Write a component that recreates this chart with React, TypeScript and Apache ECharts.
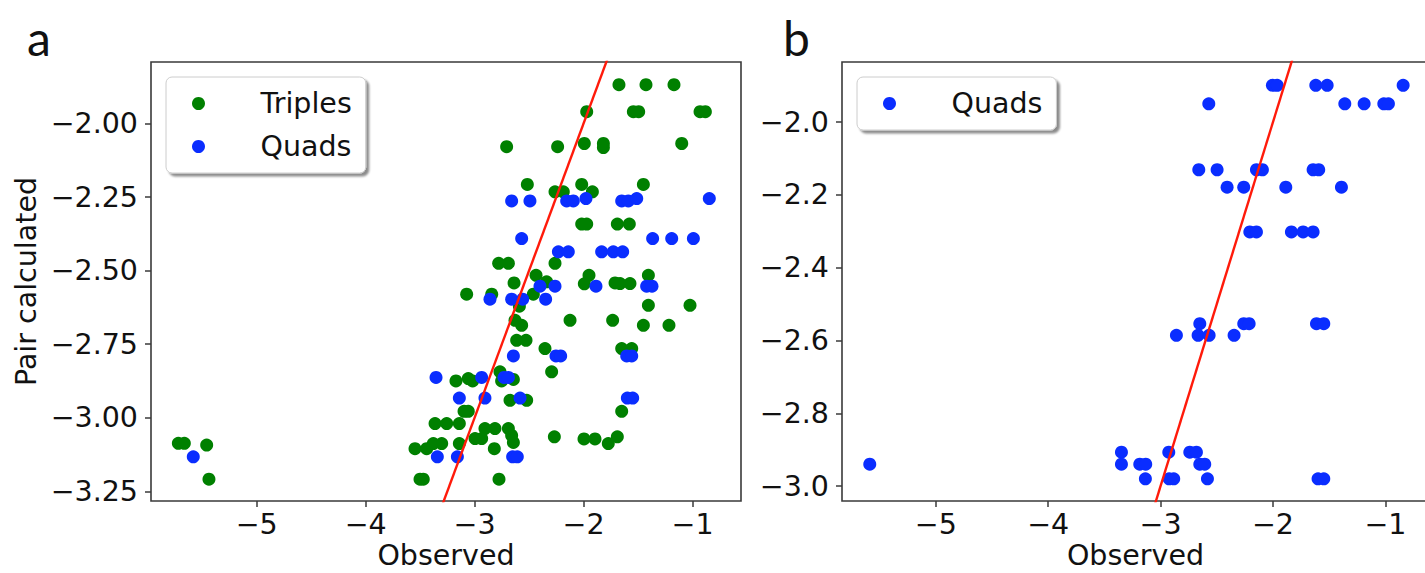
import React, { useEffect, useRef } from 'react';
import * as echarts from 'echarts';

// Tick values
const xTicks = [-5, -4, -3, -2, -1];
const leftYTicks = [-3.25, -3.0, -2.75, -2.5, -2.25, -2.0];
const rightYTicks = [-3.0, -2.8, -2.6, -2.4, -2.2, -2.0];
// y = x reference line end points
const identityEnds = [-7, 0];

// Panel a: Triples (Observed, Pair calculated)
const triples: number[][] = [
  [-1.675, -1.868], [-1.427, -1.868], [-1.170, -1.868],
  [-1.971, -1.960], [-1.543, -1.960], [-1.494, -1.960], [-0.931, -1.960], [-0.882, -1.960],
  [-2.706, -2.079], [-2.238, -2.079], [-1.993, -2.068], [-1.818, -2.068], [-1.818, -2.082], [-1.099, -2.068],
  [-2.516, -2.207], [-2.017, -2.207], [-1.451, -2.207],
  [-2.262, -2.232], [-2.186, -2.232], [-1.919, -2.232],
  [-2.017, -2.342], [-1.971, -2.342], [-1.690, -2.342], [-1.580, -2.342],
  [-2.779, -2.475], [-2.690, -2.475], [-2.262, -2.475],
  [-2.638, -2.542], [-2.436, -2.516], [-2.339, -2.538], [-2.461, -2.580],
  [-1.950, -2.516], [-1.993, -2.545], [-1.711, -2.542], [-1.665, -2.544], [-1.574, -2.544], [-1.405, -2.516],
  [-3.073, -2.580], [-2.843, -2.580], [-2.589, -2.621], [-1.405, -2.618], [-1.023, -2.618],
  [-2.629, -2.669], [-2.568, -2.686], [-2.124, -2.669], [-1.733, -2.669], [-1.451, -2.686], [-1.216, -2.686],
  [-2.614, -2.737], [-2.528, -2.737], [-2.354, -2.765], [-1.650, -2.765], [-1.558, -2.765],
  [-2.767, -2.844], [-2.293, -2.844],
  [-3.171, -2.875], [-3.058, -2.867], [-3.018, -2.875], [-2.752, -2.875], [-2.644, -2.870],
  [-2.675, -2.941], [-2.522, -2.941],
  [-3.097, -2.978], [-3.058, -2.978], [-1.650, -2.978],
  [-3.363, -3.020], [-3.256, -3.020], [-3.140, -3.020],
  [-2.905, -3.037], [-2.813, -3.037], [-2.690, -3.037], [-2.660, -3.060],
  [-2.996, -3.071], [-2.935, -3.071], [-2.644, -3.084],
  [-3.547, -3.105], [-3.440, -3.105], [-3.379, -3.088], [-3.302, -3.088], [-3.140, -3.088], [-2.819, -3.105],
  [-2.268, -3.065], [-1.996, -3.072], [-1.895, -3.072], [-1.773, -3.088], [-1.690, -3.065],
  [-3.501, -3.209], [-3.471, -3.209], [-2.776, -3.209],
  [-5.719, -3.087], [-5.664, -3.087], [-5.459, -3.093], [-5.438, -3.209],
];

// Panel a: Quads
const quadsA: number[][] = [
  [-2.660, -2.263], [-2.492, -2.263], [-2.155, -2.263], [-2.094, -2.263], [-1.978, -2.255],
  [-1.650, -2.263], [-1.589, -2.263], [-1.512, -2.255], [-0.846, -2.255],
  [-2.568, -2.391], [-1.366, -2.391], [-1.191, -2.391], [-0.992, -2.391],
  [-2.231, -2.436], [-2.140, -2.436], [-1.834, -2.436], [-1.727, -2.436], [-1.641, -2.436],
  [-2.400, -2.553], [-2.262, -2.553], [-1.886, -2.553], [-1.421, -2.553], [-1.372, -2.553],
  [-2.859, -2.597], [-2.660, -2.597], [-2.559, -2.597], [-2.348, -2.597],
  [-2.644, -2.790], [-2.253, -2.790], [-2.210, -2.790], [-1.604, -2.790], [-1.558, -2.790],
  [-3.354, -2.863], [-2.935, -2.863], [-2.730, -2.863], [-2.690, -2.863],
  [-3.140, -2.933], [-2.905, -2.933], [-2.583, -2.933], [-1.598, -2.933], [-1.549, -2.933],
  [-3.342, -3.133], [-3.158, -3.133], [-2.651, -3.133], [-2.608, -3.133],
  [-5.582, -3.133],
];

// Panel b: Quads
const quadsB: number[][] = [
  [-2.005, -1.899], [-1.963, -1.899], [-1.619, -1.899], [-1.518, -1.899], [-0.842, -1.899],
  [-2.571, -1.950], [-1.361, -1.950], [-1.189, -1.950], [-1.014, -1.950], [-0.973, -1.950],
  [-2.660, -2.131], [-2.497, -2.131], [-2.147, -2.131], [-2.094, -2.131], [-1.643, -2.131], [-1.593, -2.131],
  [-2.408, -2.179], [-2.260, -2.179], [-1.886, -2.179], [-1.391, -2.179],
  [-2.206, -2.302], [-2.147, -2.302], [-1.836, -2.302], [-1.732, -2.302], [-1.643, -2.302],
  [-2.651, -2.554], [-2.260, -2.554], [-2.212, -2.554], [-1.613, -2.554], [-1.548, -2.554],
  [-2.859, -2.586], [-2.666, -2.586], [-2.568, -2.586], [-2.346, -2.586],
  [-3.348, -2.907], [-2.927, -2.907], [-2.740, -2.907], [-2.681, -2.907],
  [-3.348, -2.940], [-3.185, -2.940], [-3.132, -2.940], [-2.651, -2.940], [-2.607, -2.940],
  [-3.135, -2.980], [-2.924, -2.980], [-2.883, -2.980], [-2.583, -2.980], [-1.599, -2.980], [-1.548, -2.980],
  [-5.587, -2.940],
];

const FONT = 'DejaVu Sans';
const FS = 28.5;
const GREEN = '#008000';
const BLUE = '#0a2dff';
const RED = '#ff1a0a';
const INK = '#111111';
const SPINE = '#3a3a3a';

const fmt = (d: number) => (v: number) => (v < 0 ? '\u2212' : '') + Math.abs(v).toFixed(d);

function xAxisOf(gridIndex: number, min: number, max: number) {
  return {
    gridIndex,
    type: 'value',
    min,
    max,
    splitLine: { show: false },
    axisLine: { show: false, onZero: false },
    axisTick: { show: true, customValues: xTicks, length: 6, lineStyle: { color: SPINE, width: 1.5 } },
    axisLabel: { customValues: xTicks, formatter: fmt(0), fontFamily: FONT, fontSize: FS, color: INK, margin: 9, lineHeight: 28 },
    name: 'Observed',
    nameLocation: 'middle',
    nameGap: 39,
    nameMoveOverlap: false,
    nameTextStyle: { fontFamily: FONT, fontSize: FS, color: INK, lineHeight: 30, verticalAlign: 'top' },
  };
}

function yAxisOf(gridIndex: number, min: number, max: number, ticks: number[], dec: number, name?: string) {
  return {
    gridIndex,
    type: 'value',
    min,
    max,
    splitLine: { show: false },
    axisLine: { show: false, onZero: false },
    axisTick: { show: true, customValues: ticks, length: 6, lineStyle: { color: SPINE, width: 1.5 } },
    axisLabel: { customValues: ticks, formatter: fmt(dec), fontFamily: FONT, fontSize: FS, color: INK, margin: 13 },
    name: name || '',
    nameLocation: 'middle',
    nameGap: 110,
    nameRotate: 90,
    nameTextStyle: { fontFamily: FONT, fontSize: FS, color: INK },
  };
}

const legendBase = {
  orient: 'vertical',
  itemWidth: 30,
  itemHeight: 13,
  itemGap: 14,
  icon: 'circle',
  selectedMode: false,
  padding: [12, 14, 12, 26],
  backgroundColor: '#ffffff',
  borderColor: '#cccccc',
  borderWidth: 1,
  borderRadius: 6,
  shadowColor: 'rgba(0,0,0,0.45)',
  shadowBlur: 2,
  shadowOffsetX: 3,
  shadowOffsetY: 3,
  textStyle: { fontFamily: FONT, fontSize: FS, color: INK, padding: [0, 0, 0, 42] },
};

const gridBase = {
  show: true,
  borderColor: SPINE,
  borderWidth: 1.6,
  backgroundColor: 'transparent',
  containLabel: false,
  outerBoundsMode: 'none',
};

export default function App() {
  const ref = useRef<HTMLDivElement>(null);
  useEffect(() => {
    if (!ref.current) return;
    const chart = echarts.init(ref.current, undefined, { renderer: 'svg' });
    const line = identityEnds.map((v) => [v, v]);
    chart.setOption({
      animation: false,
      backgroundColor: '#ffffff',
      title: [
        { text: 'a', left: 22, top: 8, textStyle: { fontFamily: 'Lato', fontSize: 48, fontWeight: 'normal', color: INK } },
        { text: 'b', left: 778, top: 8, textStyle: { fontFamily: 'Lato', fontSize: 48, fontWeight: 'normal', color: INK } },
      ],
      grid: [
        { ...gridBase, left: 151, top: 62, width: 590, height: 439 },
        { ...gridBase, left: 842, top: 62, width: 587, height: 439 },
      ],
      xAxis: [xAxisOf(0, -5.97, -0.555), xAxisOf(1, -5.834, -0.612)],
      yAxis: [
        yAxisOf(0, -3.283, -1.791, leftYTicks, 2, 'Pair calculated'),
        yAxisOf(1, -3.041, -1.835, rightYTicks, 1),
      ],
      legend: [
        { ...legendBase, left: 166, top: 77, data: ['Triples', 'Quads'] },
        { ...legendBase, left: 857, top: 77, data: ['Quads'] },
      ],
      series: [
        { name: 'Triples', type: 'scatter', xAxisIndex: 0, yAxisIndex: 0, data: triples, symbolSize: 13, itemStyle: { color: GREEN, opacity: 1 }, z: 2 },
        { name: 'Quads', type: 'scatter', xAxisIndex: 0, yAxisIndex: 0, data: quadsA, symbolSize: 13, itemStyle: { color: BLUE, opacity: 1 }, z: 3 },
        { name: 'Quads', type: 'scatter', xAxisIndex: 1, yAxisIndex: 1, data: quadsB, symbolSize: 13, itemStyle: { color: BLUE, opacity: 1 }, z: 3 },
        { name: 'y = x', type: 'line', xAxisIndex: 0, yAxisIndex: 0, data: line, showSymbol: false, symbol: 'none', clip: true, lineStyle: { color: RED, width: 2.4 }, z: 5 },
        { name: 'y = x', type: 'line', xAxisIndex: 1, yAxisIndex: 1, data: line, showSymbol: false, symbol: 'none', clip: true, lineStyle: { color: RED, width: 2.4 }, z: 5 },
      ],
    });
    return () => chart.dispose();
  }, []);
  return (
    <div
      ref={ref}
      style={{ position: 'absolute', left: 0, top: 0, width: 1425, height: 573, background: '#fff' }}
    />
  );
}
